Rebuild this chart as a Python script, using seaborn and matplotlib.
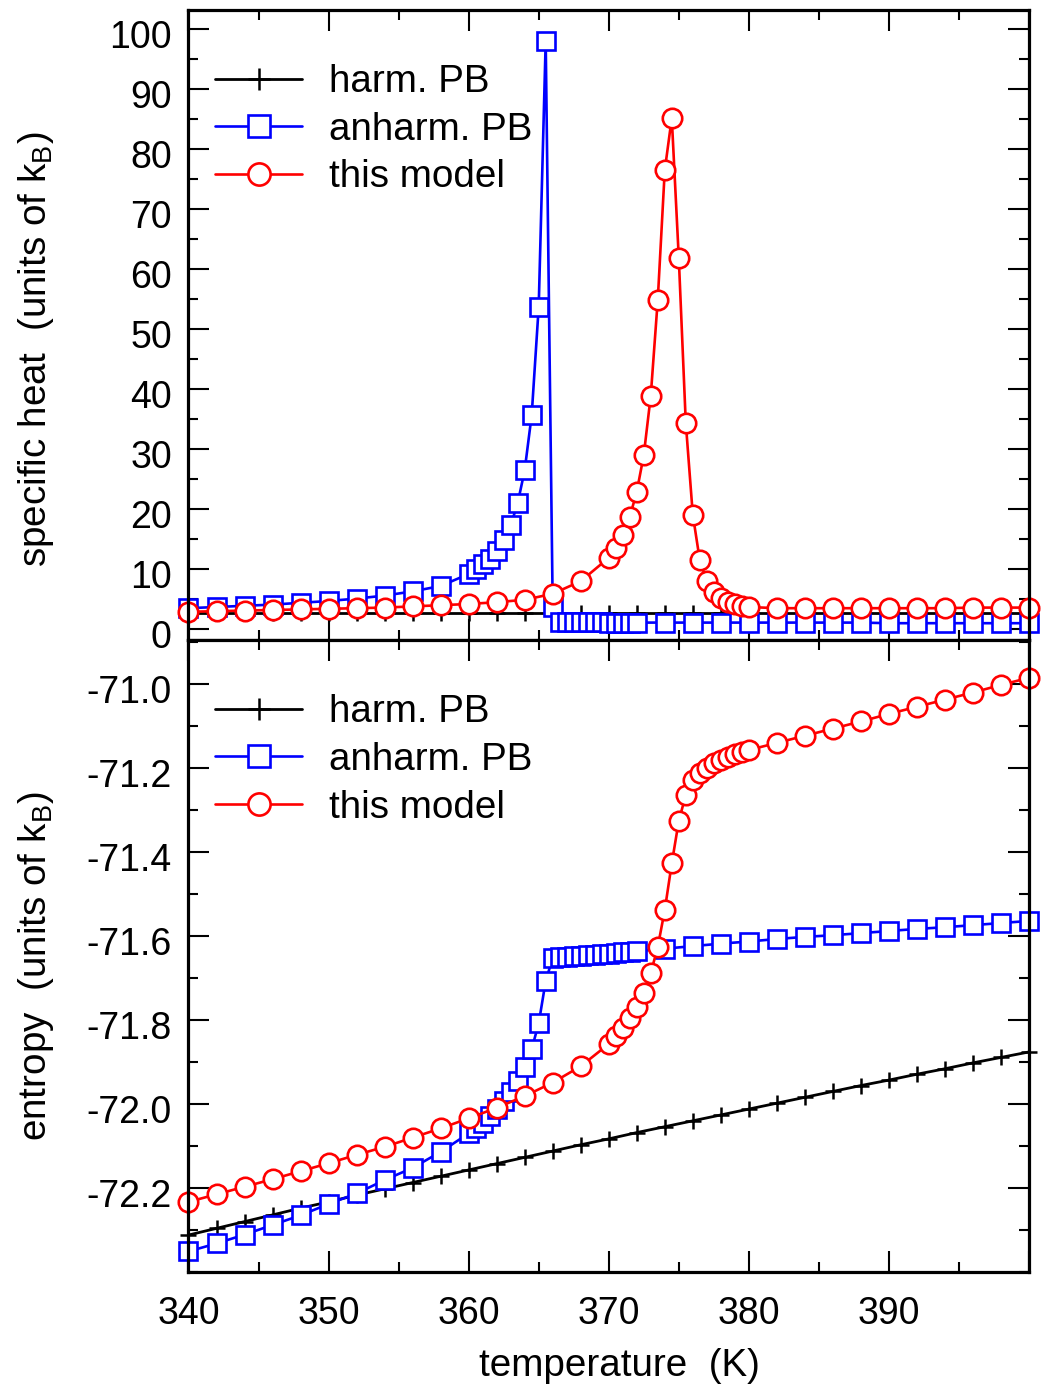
import numpy as np
import pandas as pd
import matplotlib
matplotlib.use("Agg")
import matplotlib.pyplot as plt
import matplotlib.transforms as mtransforms
import seaborn as sns
from matplotlib.ticker import MultipleLocator, FixedLocator, FuncFormatter

# ---------------- data ----------------
T_harm = [340, 342, 344, 346, 348, 350, 352, 354, 356, 358, 360, 362, 364, 366, 368,
          370, 372, 374, 376, 378, 380, 382, 384, 386, 388, 390, 392, 394, 396, 398, 400]
cv_harm = [2.7] * 31
S_harm = [-72.312, -72.296, -72.280, -72.264, -72.248, -72.233, -72.217, -72.202, -72.187,
          -72.172, -72.157, -72.142, -72.127, -72.112, -72.097, -72.083, -72.068, -72.054,
          -72.040, -72.026, -72.012, -71.998, -71.984, -71.970, -71.956, -71.943, -71.929,
          -71.916, -71.902, -71.889, -71.876]

T_anh = [340, 342, 344, 346, 348, 350, 352, 354, 356, 358,
         360, 360.5, 361, 361.5, 362, 362.5, 363, 363.5, 364, 364.5, 365, 365.5, 366,
         366.5, 367, 367.5, 368, 368.5, 369, 369.5, 370, 370.5, 371, 371.5, 372,
         374, 376, 378, 380, 382, 384, 386, 388, 390, 392, 394, 396, 398, 400]
cv_anh = [3.5, 3.7, 3.9, 4.1, 4.4, 4.7, 5.1, 5.6, 6.3, 7.2,
          9.2, 10.0, 10.8, 11.7, 13.0, 14.8, 17.3, 21.0, 26.5, 35.7, 53.7, 98.0, 3.7,
          1.2, 1.2, 1.2, 1.2, 1.2, 1.2, 1.2, 1.1, 1.1, 1.1, 1.1, 1.1,
          1.1, 1.1, 1.1, 1.1, 1.1, 1.1, 1.1, 1.1, 1.0, 1.0, 1.0, 1.0, 1.0, 1.0]
S_anh = [-72.351, -72.332, -72.311, -72.288, -72.265, -72.238, -72.213, -72.181, -72.152, -72.114,
         -72.070, -72.058, -72.044, -72.029, -72.012, -71.993, -71.971, -71.944, -71.912, -71.869,
         -71.808, -71.707, -71.652,
         -71.650, -71.649, -71.648, -71.647, -71.646, -71.644, -71.643, -71.642, -71.640, -71.639,
         -71.638, -71.636,
         -71.630, -71.624, -71.618, -71.613, -71.607, -71.602, -71.598, -71.593, -71.588, -71.583,
         -71.579, -71.574, -71.569, -71.564]

T_mod = [340, 342, 344, 346, 348, 350, 352, 354, 356, 358, 360, 362, 364, 366, 368,
         370, 370.5, 371, 371.5, 372, 372.5, 373, 373.5, 374, 374.5, 375, 375.5, 376, 376.5,
         377, 377.5, 378, 378.5, 379, 379.5, 380,
         382, 384, 386, 388, 390, 392, 394, 396, 398, 400]
cv_mod = [2.9, 3.0, 3.1, 3.2, 3.3, 3.4, 3.5, 3.6, 3.8, 4.0, 4.2, 4.5, 4.9, 5.9, 8.0,
          11.9, 13.5, 15.7, 18.7, 22.9, 29.0, 38.9, 54.9, 76.5, 85.2, 61.9, 34.4, 19.1, 11.5,
          8.0, 6.2, 5.2, 4.5, 4.2, 3.9, 3.7,
          3.5, 3.5, 3.5, 3.5, 3.5, 3.5, 3.5, 3.6, 3.6, 3.6]
S_mod = [-72.233, -72.215, -72.197, -72.179, -72.160, -72.141, -72.121, -72.102, -72.080,
         -72.058, -72.034, -72.009, -71.981, -71.949, -71.910,
         -71.857, -71.838, -71.819, -71.795, -71.769, -71.735, -71.688, -71.626, -71.538,
         -71.427, -71.326, -71.264, -71.229, -71.212, -71.199, -71.189, -71.180, -71.173,
         -71.167, -71.162, -71.157,
         -71.140, -71.123, -71.106, -71.089, -71.071, -71.054, -71.037, -71.020, -71.002, -70.985]

labels = ["harm. PB", "anharm. PB", "this model"]
colors = ["black", "blue", "red"]

cv_ticks = [0, 10, 20, 30, 40, 50, 60, 70, 80, 90, 100]
S_ticks = [-72.2, -72.0, -71.8, -71.6, -71.4, -71.2, -71.0]
T_ticks = [340, 350, 360, 370, 380, 390, 400]

# ---------------- style ----------------
sns.set_theme(style="ticks")
plt.rcParams["font.family"] = ["Liberation Sans", "DejaVu Sans"]
plt.rcParams["mathtext.fontset"] = "custom"
plt.rcParams["mathtext.rm"] = "Liberation Sans"
plt.rcParams["mathtext.it"] = "Liberation Sans"
plt.rcParams["axes.unicode_minus"] = False
for k in ["text.color", "axes.labelcolor", "xtick.color", "ytick.color",
          "xtick.labelcolor", "ytick.labelcolor", "axes.edgecolor"]:
    plt.rcParams[k] = "black"

FS = 27      # tick labels
FS2 = 27.8   # legend and axis labels
fig = plt.figure(figsize=(10.42, 13.89), dpi=100)
left, width = 0.1809, 0.8066
ax1 = fig.add_axes([left, 0.53924, width, 0.45356])
ax2 = fig.add_axes([left, 0.08423, width, 0.4550])

def draw(ax, yh, ya, ym):
    sns.lineplot(x=T_harm, y=yh, ax=ax, color=colors[0], linewidth=2.0, marker="+",
                 markersize=11, markeredgewidth=1.8, markeredgecolor=colors[0],
                 label=labels[0], zorder=2)
    sns.lineplot(x=T_anh, y=ya, ax=ax, color=colors[1], linewidth=1.9, marker="s",
                 markersize=13, markerfacecolor="white", markeredgecolor=colors[1],
                 markeredgewidth=1.9, label=labels[1], zorder=3)
    sns.lineplot(x=T_mod, y=ym, ax=ax, color=colors[2], linewidth=1.9, marker="o",
                 markersize=14, markerfacecolor="white", markeredgecolor=colors[2],
                 markeredgewidth=1.9, label=labels[2], zorder=4)
    for ln in ax.lines:
        ln.set_clip_on(False)
    leg = ax.legend(loc="upper left", bbox_to_anchor=(0.032, 0.914), frameon=False,
                    fontsize=FS2, handlelength=2.25, handletextpad=0.7, labelspacing=0.30,
                    borderpad=0, borderaxespad=0)
    for h, ms in zip(leg.legend_handles, [16, 15.5, 16]):
        h.set_markersize(ms)
    for txt in leg.get_texts():
        txt.set_color("black")
    ax.set_xlim(340, 400)
    ax.xaxis.set_major_locator(FixedLocator(T_ticks))
    ax.xaxis.set_minor_locator(MultipleLocator(5))
    ax.tick_params(which="both", direction="in", top=True, right=True, labelsize=FS,
                   width=1.5, color="black", labelcolor="black")
    ax.tick_params(which="major", length=15, pad=12)
    ax.tick_params(axis="x", which="major", pad=17)
    ax.tick_params(which="minor", length=7.5)
    for sp in ax.spines.values():
        sp.set_linewidth(2.3)
        sp.set_color("black")
        sp.set_zorder(10)
    ax.set_xlabel("")
    ax.set_ylabel("")

draw(ax1, cv_harm, cv_anh, cv_mod)
draw(ax2, S_harm, S_anh, S_mod)

ax1.set_ylim(-1.8, 103.2)
ax1.yaxis.set_major_locator(FixedLocator(cv_ticks))
ax1.yaxis.set_minor_locator(MultipleLocator(5))
ax1.tick_params(axis="x", labelbottom=False)

ax2.set_ylim(-72.4, -70.895)
ax2.yaxis.set_major_locator(FixedLocator(S_ticks))
ax2.yaxis.set_minor_locator(MultipleLocator(0.1))
ax2.yaxis.set_major_formatter(FuncFormatter(lambda v, p: f"{v:.1f}"))
ax2.xaxis.set_major_formatter(FuncFormatter(lambda v, p: "" if v > 395 else f"{v:.0f}"))

# labels sit slightly below their ticks in the reference
shift = mtransforms.ScaledTranslation(0, -5 / 100, fig.dpi_scale_trans)
for ax in (ax1, ax2):
    for t in ax.yaxis.get_major_ticks():
        t.label1.set_transform(t.label1.get_transform() + shift)

ax1.set_ylabel(r"specific heat  (units of k$_{\mathrm{B}}$)", fontsize=FS2, color="black")
ax1.yaxis.set_label_coords(-0.158, 0.462)
ax2.set_ylabel(r"entropy  (units of k$_{\mathrm{B}}$)", fontsize=FS2, color="black")
ax2.yaxis.set_label_coords(-0.158, 0.484)
ax2.set_xlabel("temperature  (K)", fontsize=FS2, color="black")
ax2.xaxis.set_label_coords(0.5125, -0.12)

fig.savefig("out.png", dpi=100)
